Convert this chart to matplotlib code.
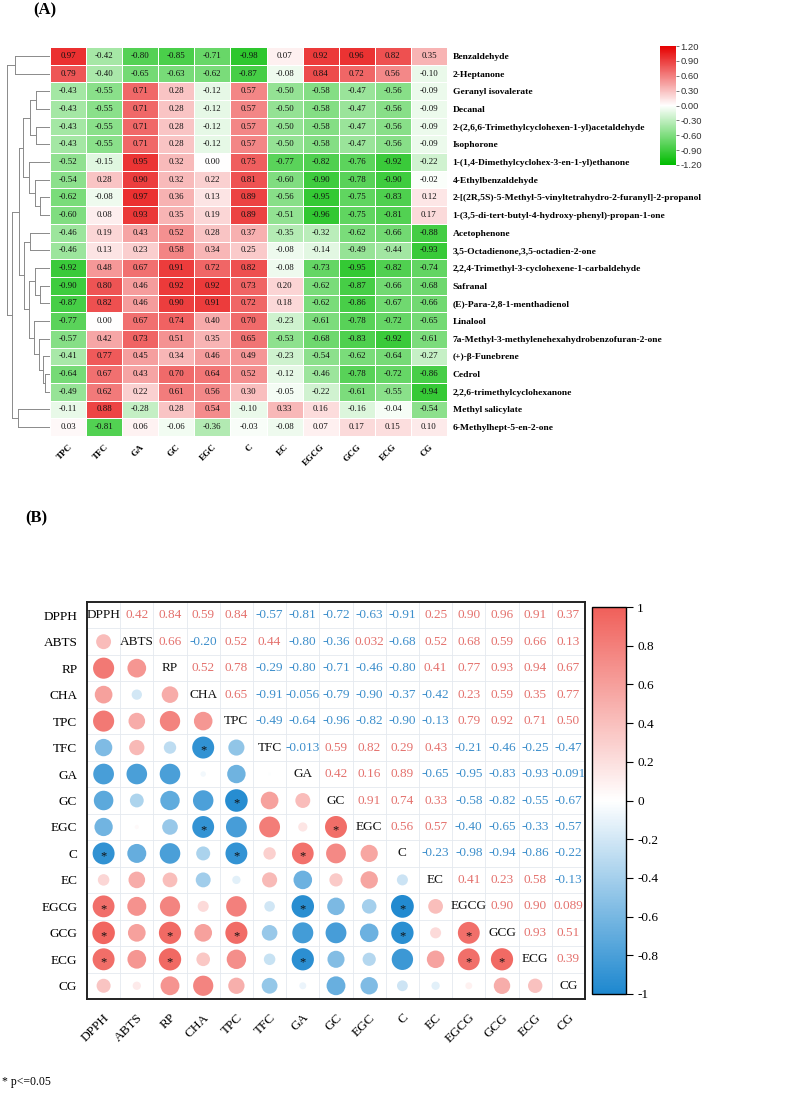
import numpy as np
import matplotlib
matplotlib.use('Agg')
import matplotlib.pyplot as plt
from matplotlib.colors import LinearSegmentedColormap, Normalize
from matplotlib.cm import ScalarMappable

plt.rcParams['font.family'] = 'Liberation Serif'
plt.rcParams['axes.unicode_minus'] = False

# ---- (A) volatiles vs phenolics heatmap ----
phenol_cols = ['TPC', 'TFC', 'GA', 'GC', 'EGC', 'C', 'EC', 'EGCG', 'GCG', 'ECG', 'CG']
volatiles = [
    'Benzaldehyde', '2-Heptanone', 'Geranyl isovalerate', 'Decanal',
    '2-(2,6,6-Trimethylcyclohexen-1-yl)acetaldehyde', 'Isophorone',
    '1-(1,4-Dimethylcyclohex-3-en-1-yl)ethanone', '4-Ethylbenzaldehyde',
    '2-[(2R,5S)-5-Methyl-5-vinyltetrahydro-2-furanyl]-2-propanol',
    '1-(3,5-di-tert-butyl-4-hydroxy-phenyl)-propan-1-one', 'Acetophenone',
    '3,5-Octadienone,3,5-octadien-2-one', '2,2,4-Trimethyl-3-cyclohexene-1-carbaldehyde',
    'Safranal', '(E)-Para-2,8-1-menthadienol', 'Linalool',
    '7a-Methyl-3-methylenehexahydrobenzofuran-2-one', '(+)-β-Funebrene', 'Cedrol',
    '2,2,6-trimethylcyclohexanone', 'Methyl salicylate', '6-Methylhept-5-en-2-one',
]
heat_vals = np.array([
    [0.97, -0.42, -0.80, -0.85, -0.71, -0.98, 0.07, 0.92, 0.96, 0.82, 0.35],
    [0.79, -0.40, -0.65, -0.63, -0.62, -0.87, -0.08, 0.84, 0.72, 0.56, -0.10],
    [-0.43, -0.55, 0.71, 0.28, -0.12, 0.57, -0.50, -0.58, -0.47, -0.56, -0.09],
    [-0.43, -0.55, 0.71, 0.28, -0.12, 0.57, -0.50, -0.58, -0.47, -0.56, -0.09],
    [-0.43, -0.55, 0.71, 0.28, -0.12, 0.57, -0.50, -0.58, -0.47, -0.56, -0.09],
    [-0.43, -0.55, 0.71, 0.28, -0.12, 0.57, -0.50, -0.58, -0.47, -0.56, -0.09],
    [-0.52, -0.15, 0.95, 0.32, 0.00, 0.75, -0.77, -0.82, -0.76, -0.92, -0.22],
    [-0.54, 0.28, 0.90, 0.32, 0.22, 0.81, -0.60, -0.90, -0.78, -0.90, -0.02],
    [-0.62, -0.08, 0.97, 0.36, 0.13, 0.89, -0.56, -0.95, -0.75, -0.83, 0.12],
    [-0.60, 0.08, 0.93, 0.35, 0.19, 0.89, -0.51, -0.96, -0.75, -0.81, 0.17],
    [-0.46, 0.19, 0.43, 0.52, 0.28, 0.37, -0.35, -0.32, -0.62, -0.66, -0.88],
    [-0.46, 0.13, 0.23, 0.58, 0.34, 0.25, -0.08, -0.14, -0.49, -0.44, -0.93],
    [-0.92, 0.48, 0.67, 0.91, 0.72, 0.82, -0.08, -0.73, -0.95, -0.82, -0.74],
    [-0.90, 0.80, 0.46, 0.92, 0.92, 0.73, 0.20, -0.62, -0.87, -0.66, -0.68],
    [-0.87, 0.82, 0.46, 0.90, 0.91, 0.72, 0.18, -0.62, -0.86, -0.67, -0.66],
    [-0.77, 0.00, 0.67, 0.74, 0.40, 0.70, -0.23, -0.61, -0.78, -0.72, -0.65],
    [-0.57, 0.42, 0.73, 0.51, 0.35, 0.65, -0.53, -0.68, -0.83, -0.92, -0.61],
    [-0.41, 0.77, 0.45, 0.34, 0.46, 0.49, -0.23, -0.54, -0.62, -0.64, -0.27],
    [-0.64, 0.67, 0.43, 0.70, 0.64, 0.52, -0.12, -0.46, -0.78, -0.72, -0.86],
    [-0.49, 0.62, 0.22, 0.61, 0.56, 0.30, -0.05, -0.22, -0.61, -0.55, -0.94],
    [-0.11, 0.88, -0.28, 0.28, 0.54, -0.10, 0.33, 0.16, -0.16, -0.04, -0.54],
    [0.03, -0.81, 0.06, -0.06, -0.36, -0.03, -0.08, 0.07, 0.17, 0.15, 0.10],
])
heat_ticks = [1.2, 0.9, 0.6, 0.3, 0.0, -0.3, -0.6, -0.9, -1.2]

# row dendrogram: (child a, child b, height); new nodes numbered from 22
dend_merges = [
    (0, 1, 35), (2, 3, 14), (4, 5, 14), (23, 24, 20),
    (8, 9, 10), (7, 26, 15), (6, 27, 21), (25, 28, 27),
    (10, 11, 20), (13, 14, 10), (12, 31, 15),
    (18, 19, 5), (17, 33, 7), (16, 34, 11), (15, 35, 16),
    (32, 36, 21), (30, 37, 26), (29, 38, 31),
    (20, 21, 32), (39, 40, 38), (22, 41, 43),
]

# ---- (B) correlation plot ----
corr_names = ['DPPH', 'ABTS', 'RP', 'CHA', 'TPC', 'TFC', 'GA', 'GC', 'EGC', 'C',
              'EC', 'EGCG', 'GCG', 'ECG', 'CG']
corr_upper = [
    [0.42, 0.84, 0.59, 0.84, -0.57, -0.81, -0.72, -0.63, -0.91, 0.25, 0.90, 0.96, 0.91, 0.37],
    [0.66, -0.20, 0.52, 0.44, -0.80, -0.36, 0.032, -0.68, 0.52, 0.68, 0.59, 0.66, 0.13],
    [0.52, 0.78, -0.29, -0.80, -0.71, -0.46, -0.80, 0.41, 0.77, 0.93, 0.94, 0.67],
    [0.65, -0.91, -0.056, -0.79, -0.90, -0.37, -0.42, 0.23, 0.59, 0.35, 0.77],
    [-0.49, -0.64, -0.96, -0.82, -0.90, -0.13, 0.79, 0.92, 0.71, 0.50],
    [-0.013, 0.59, 0.82, 0.29, 0.43, -0.21, -0.46, -0.25, -0.47],
    [0.42, 0.16, 0.89, -0.65, -0.95, -0.83, -0.93, -0.091],
    [0.91, 0.74, 0.33, -0.58, -0.82, -0.55, -0.67],
    [0.56, 0.57, -0.40, -0.65, -0.33, -0.57],
    [-0.23, -0.98, -0.94, -0.86, -0.22],
    [0.41, 0.23, 0.58, -0.13],
    [0.90, 0.90, 0.089],
    [0.93, 0.51],
    [0.39],
]
sig_pairs = [('TFC', 'CHA'), ('GC', 'TPC'), ('EGC', 'CHA'), ('EGC', 'GC'),
             ('C', 'DPPH'), ('C', 'TPC'), ('C', 'GA'),
             ('EGCG', 'DPPH'), ('EGCG', 'GA'), ('EGCG', 'C'),
             ('GCG', 'DPPH'), ('GCG', 'RP'), ('GCG', 'TPC'), ('GCG', 'C'), ('GCG', 'EGCG'),
             ('ECG', 'DPPH'), ('ECG', 'RP'), ('ECG', 'GA'), ('ECG', 'EGCG'), ('ECG', 'GCG')]
corr_ticks = [1, 0.8, 0.6, 0.4, 0.2, 0, -0.2, -0.4, -0.6, -0.8, -1]

W, H = 787, 1093
fig = plt.figure(figsize=(W / 100, H / 100), dpi=100)


def px_axes(x0, y0, x1, y1):
    # axes placed by pixel box (top-left origin)
    return fig.add_axes([x0 / W, 1 - y1 / H, (x1 - x0) / W, (y1 - y0) / H])


# ===== panel A =====
n_r, n_c = heat_vals.shape
cmap_a = LinearSegmentedColormap.from_list('gwr', ['#00BB00', '#FFFFFF', '#E60000'])
ax = px_axes(50, 47, 447, 436)
ax.pcolormesh(np.arange(n_c + 1), np.arange(n_r + 1), heat_vals, cmap=cmap_a,
              vmin=-1.2, vmax=1.2, edgecolors='white', linewidth=0.6)
ax.set_xlim(0, n_c)
ax.set_ylim(n_r, 0)
for i in range(n_r):
    for j in range(n_c):
        ax.text(j + 0.5, i + 0.5, f'{heat_vals[i, j]:.2f}', ha='center', va='center',
                fontsize=6.4, color='#111111')
for s in ax.spines.values():
    s.set_visible(False)
ax.yaxis.tick_right()
ax.set_yticks(np.arange(n_r) + 0.5)
ax.set_yticklabels(volatiles, fontsize=6.8, fontweight='bold')
ax.set_xticks(np.arange(n_c) + 0.5)
ax.set_xticklabels(phenol_cols, fontsize=6.6, fontweight='bold', rotation=45,
                   ha='right', va='top', rotation_mode='anchor')
ax.tick_params(length=0, pad=4)
ax.tick_params(axis='x', pad=5)

# dendrogram
axd = px_axes(0, 47, 50, 436)
axd.set_xlim(50, 0)
axd.set_ylim(n_r, 0)
axd.axis('off')
pos = {i: i + 0.5 for i in range(n_r)}
hgt = {i: 0 for i in range(n_r)}
for k, (a, b, d) in enumerate(dend_merges):
    for c in (a, b):
        axd.plot([hgt[c], d], [pos[c], pos[c]], color='#8a8a8a', lw=0.7)
    axd.plot([d, d], [pos[a], pos[b]], color='#8a8a8a', lw=0.7)
    pos[n_r + k] = (pos[a] + pos[b]) / 2
    hgt[n_r + k] = d

# colorbar A
cax = px_axes(660, 46, 676, 165)
cb = fig.colorbar(ScalarMappable(Normalize(-1.2, 1.2), cmap_a), cax=cax)
cb.set_ticks(heat_ticks)
cb.set_ticklabels([f'{t:.2f}' for t in heat_ticks])
cb.outline.set_visible(False)
cax.tick_params(labelsize=6.8, length=2, width=0.5, pad=1, color='#444444')
for t in cax.get_yticklabels():
    t.set_family('Liberation Sans')
    t.set_color('#333333')

fig.text(33 / W, 1 - 10 / H, '(A)', fontsize=12, fontweight='bold', va='center')

# ===== panel B =====
n = len(corr_names)
corr = np.eye(n)
for i, row in enumerate(corr_upper):
    for k, v in enumerate(row):
        corr[i, i + 1 + k] = v
        corr[i + 1 + k, i] = v

cmap_b = LinearSegmentedColormap.from_list('bwr2', ['#1E88CF', '#FFFFFF', '#F0605A'])
norm_b = Normalize(-1, 1)

axb = px_axes(87, 602, 585, 999)
axb.set_xlim(0, n)
axb.set_ylim(n, 0)
for k in range(1, n):
    axb.axvline(k, color='#e4e9ef', lw=0.6, zorder=0)
    axb.axhline(k, color='#e4e9ef', lw=0.6, zorder=0)
for s in axb.spines.values():
    s.set_linewidth(1.4)
    s.set_color('#222222')

cell_h_pt = (999 - 602) / n * 0.72
d_max = 0.87 * cell_h_pt
xs, ys, sz, cols = [], [], [], []
for i in range(n):
    for j in range(n):
        v = corr[i, j]
        if i == j:
            axb.text(j + 0.5, i + 0.5, corr_names[i], ha='center', va='center',
                     fontsize=9.5, color='#111111')
        elif j > i:
            lab = f'{v:.2g}' if abs(v) < 0.1 else f'{v:.2f}'
            axb.text(j + 0.5, i + 0.5, lab, ha='center', va='center', fontsize=9.5,
                     color='#E4716D' if v > 0 else '#3C8ECB')
        else:
            xs.append(j + 0.5)
            ys.append(i + 0.5)
            sz.append(d_max ** 2 * abs(v))
            cols.append(cmap_b(norm_b(v)))
axb.scatter(xs, ys, s=sz, c=cols, linewidths=0, zorder=2)
for rname, cname in sig_pairs:
    i, j = corr_names.index(rname), corr_names.index(cname)
    axb.text(j + 0.5, i + 0.62, '*', ha='center', va='center', fontsize=9,
             color='#111111', zorder=3)

axb.set_yticks(np.arange(n) + 0.5)
axb.set_yticklabels(corr_names, fontsize=9.5)
axb.set_xticks(np.arange(n) + 0.5)
axb.set_xticklabels(corr_names, fontsize=9.5, rotation=45, ha='right', va='top',
                    rotation_mode='anchor')
axb.tick_params(length=0, pad=7)
axb.tick_params(axis='x', pad=9)

cbx = px_axes(592, 607, 626, 994)
cb2 = fig.colorbar(ScalarMappable(norm_b, cmap_b), cax=cbx)
cb2.set_ticks(corr_ticks)
cb2.set_ticklabels([f'{t:g}' for t in corr_ticks])
cb2.outline.set_linewidth(1.0)
cbx.tick_params(labelsize=9.5, length=5, width=0.8, pad=3)

fig.text(25 / W, 1 - 518 / H, '(B)', fontsize=12, fontweight='bold', va='center')
fig.text(2 / W, 1 - 1082 / H, '* p<=0.05', fontsize=8.5, va='center')

fig.savefig('out.png', dpi=100)
